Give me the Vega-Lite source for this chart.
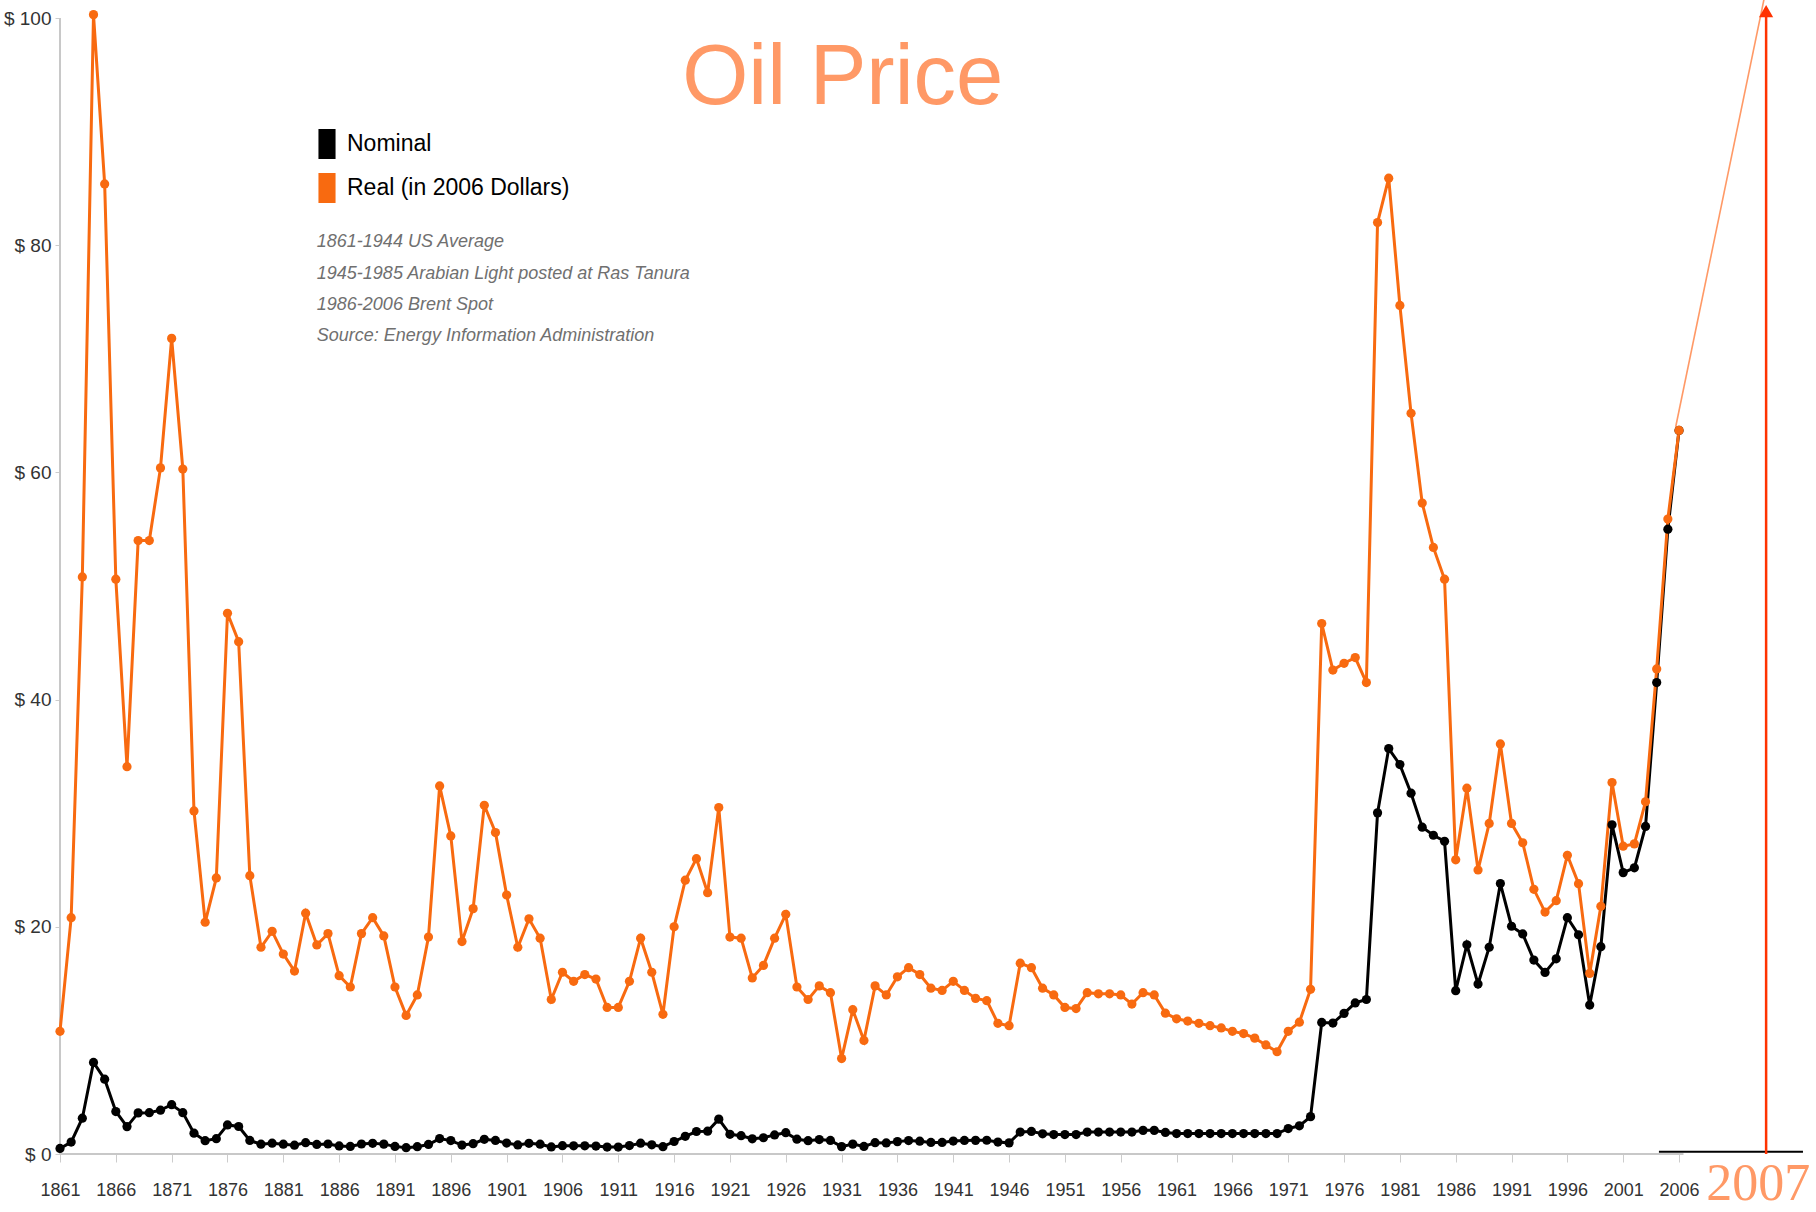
{
  "$schema": "https://vega.github.io/schema/vega-lite/v6.json",
  "width": 1750,
  "height": 1153,
  "autosize": "none",
  "padding": {"left": 60, "top": 1, "right": 6, "bottom": 58},
  "background": "white",
  "config": {
    "view": {"stroke": null},
    "axis": {"grid": false, "domain": false, "labelFont": "Liberation Sans, Arial, sans-serif", "labelColor": "#333333", "tickColor": "#cccccc"},
    "legend": {"orient": "none", "legendX": 252, "legendY": 128, "padding": 0, "symbolType": "M-0.57,-1H0.57V1H-0.57Z", "symbolSize": 900, "symbolStrokeWidth": 0, "symbolOpacity": 1, "labelFont": "Liberation Sans, Arial, sans-serif", "labelFontSize": 23, "labelColor": "#000000", "labelOffset": 5, "labelLimit": 0, "rowPadding": 14}
  },
  "datasets": {
    "oil": [
      {"year":1861,"nominal":0.49,"real":10.8},{"year":1862,"nominal":1.05,"real":20.8},{"year":1863,"nominal":3.15,"real":50.8},{"year":1864,"nominal":8.06,"real":100.3},{"year":1865,"nominal":6.59,"real":85.4},
      {"year":1866,"nominal":3.74,"real":50.6},{"year":1867,"nominal":2.41,"real":34.1},{"year":1868,"nominal":3.62,"real":54.0},{"year":1869,"nominal":3.64,"real":54.0},{"year":1870,"nominal":3.86,"real":60.4},
      {"year":1871,"nominal":4.34,"real":71.8},{"year":1872,"nominal":3.64,"real":60.3},{"year":1873,"nominal":1.83,"real":30.2},{"year":1874,"nominal":1.17,"real":20.4},{"year":1875,"nominal":1.35,"real":24.3},
      {"year":1876,"nominal":2.56,"real":47.6},{"year":1877,"nominal":2.42,"real":45.1},{"year":1878,"nominal":1.19,"real":24.5},{"year":1879,"nominal":0.86,"real":18.2},{"year":1880,"nominal":0.95,"real":19.6},
      {"year":1881,"nominal":0.86,"real":17.6},{"year":1882,"nominal":0.78,"real":16.1},{"year":1883,"nominal":1.0,"real":21.2},{"year":1884,"nominal":0.84,"real":18.4},{"year":1885,"nominal":0.88,"real":19.4},
      {"year":1886,"nominal":0.71,"real":15.7},{"year":1887,"nominal":0.67,"real":14.7},{"year":1888,"nominal":0.88,"real":19.4},{"year":1889,"nominal":0.94,"real":20.8},{"year":1890,"nominal":0.87,"real":19.2},
      {"year":1891,"nominal":0.67,"real":14.7},{"year":1892,"nominal":0.56,"real":12.2},{"year":1893,"nominal":0.64,"real":14.0},{"year":1894,"nominal":0.84,"real":19.1},{"year":1895,"nominal":1.36,"real":32.4},
      {"year":1896,"nominal":1.18,"real":28.0},{"year":1897,"nominal":0.79,"real":18.7},{"year":1898,"nominal":0.91,"real":21.6},{"year":1899,"nominal":1.29,"real":30.7},{"year":1900,"nominal":1.19,"real":28.3},
      {"year":1901,"nominal":0.96,"real":22.8},{"year":1902,"nominal":0.8,"real":18.2},{"year":1903,"nominal":0.94,"real":20.7},{"year":1904,"nominal":0.86,"real":19.0},{"year":1905,"nominal":0.62,"real":13.6},
      {"year":1906,"nominal":0.73,"real":16.0},{"year":1907,"nominal":0.72,"real":15.2},{"year":1908,"nominal":0.72,"real":15.8},{"year":1909,"nominal":0.7,"real":15.4},{"year":1910,"nominal":0.61,"real":12.9},
      {"year":1911,"nominal":0.61,"real":12.9},{"year":1912,"nominal":0.74,"real":15.2},{"year":1913,"nominal":0.95,"real":19.0},{"year":1914,"nominal":0.81,"real":16.0},{"year":1915,"nominal":0.64,"real":12.3},
      {"year":1916,"nominal":1.1,"real":20.0},{"year":1917,"nominal":1.56,"real":24.1},{"year":1918,"nominal":1.98,"real":26.0},{"year":1919,"nominal":2.01,"real":23.0},{"year":1920,"nominal":3.07,"real":30.5},
      {"year":1921,"nominal":1.73,"real":19.1},{"year":1922,"nominal":1.61,"real":19.0},{"year":1923,"nominal":1.34,"real":15.5},{"year":1924,"nominal":1.43,"real":16.6},{"year":1925,"nominal":1.68,"real":19.0},
      {"year":1926,"nominal":1.88,"real":21.1},{"year":1927,"nominal":1.3,"real":14.7},{"year":1928,"nominal":1.17,"real":13.6},{"year":1929,"nominal":1.27,"real":14.8},{"year":1930,"nominal":1.19,"real":14.2},
      {"year":1931,"nominal":0.65,"real":8.4},{"year":1932,"nominal":0.87,"real":12.7},{"year":1933,"nominal":0.67,"real":10.0},{"year":1934,"nominal":1.0,"real":14.8},{"year":1935,"nominal":0.97,"real":14.0},
      {"year":1936,"nominal":1.09,"real":15.6},{"year":1937,"nominal":1.18,"real":16.4},{"year":1938,"nominal":1.13,"real":15.8},{"year":1939,"nominal":1.02,"real":14.6},{"year":1940,"nominal":1.02,"real":14.4},
      {"year":1941,"nominal":1.14,"real":15.2},{"year":1942,"nominal":1.19,"real":14.4},{"year":1943,"nominal":1.2,"real":13.7},{"year":1944,"nominal":1.21,"real":13.5},{"year":1945,"nominal":1.05,"real":11.5},
      {"year":1946,"nominal":0.98,"real":11.3},{"year":1947,"nominal":1.93,"real":16.8},{"year":1948,"nominal":1.99,"real":16.4},{"year":1949,"nominal":1.78,"real":14.6},{"year":1950,"nominal":1.71,"real":14.0},
      {"year":1951,"nominal":1.71,"real":12.9},{"year":1952,"nominal":1.71,"real":12.8},{"year":1953,"nominal":1.93,"real":14.2},{"year":1954,"nominal":1.93,"real":14.1},{"year":1955,"nominal":1.93,"real":14.1},
      {"year":1956,"nominal":1.93,"real":14.0},{"year":1957,"nominal":1.93,"real":13.2},{"year":1958,"nominal":2.08,"real":14.2},{"year":1959,"nominal":2.08,"real":14.0},{"year":1960,"nominal":1.9,"real":12.4},
      {"year":1961,"nominal":1.8,"real":11.9},{"year":1962,"nominal":1.8,"real":11.7},{"year":1963,"nominal":1.8,"real":11.5},{"year":1964,"nominal":1.8,"real":11.3},{"year":1965,"nominal":1.8,"real":11.1},
      {"year":1966,"nominal":1.8,"real":10.8},{"year":1967,"nominal":1.8,"real":10.6},{"year":1968,"nominal":1.8,"real":10.2},{"year":1969,"nominal":1.8,"real":9.6},{"year":1970,"nominal":1.8,"real":9.0},
      {"year":1971,"nominal":2.24,"real":10.8},{"year":1972,"nominal":2.48,"real":11.6},{"year":1973,"nominal":3.29,"real":14.5},{"year":1974,"nominal":11.58,"real":46.7},{"year":1975,"nominal":11.53,"real":42.6},
      {"year":1976,"nominal":12.38,"real":43.2},{"year":1977,"nominal":13.3,"real":43.7},{"year":1978,"nominal":13.6,"real":41.5},{"year":1979,"nominal":30.03,"real":82.0},{"year":1980,"nominal":35.69,"real":85.9},
      {"year":1981,"nominal":34.28,"real":74.7},{"year":1982,"nominal":31.76,"real":65.2},{"year":1983,"nominal":28.77,"real":57.3},{"year":1984,"nominal":28.06,"real":53.4},{"year":1985,"nominal":27.53,"real":50.6},
      {"year":1986,"nominal":14.38,"real":25.9},{"year":1987,"nominal":18.42,"real":32.2},{"year":1988,"nominal":14.96,"real":25.0},{"year":1989,"nominal":18.2,"real":29.1},{"year":1990,"nominal":23.81,"real":36.1},
      {"year":1991,"nominal":20.05,"real":29.1},{"year":1992,"nominal":19.37,"real":27.4},{"year":1993,"nominal":17.07,"real":23.3},{"year":1994,"nominal":15.98,"real":21.3},{"year":1995,"nominal":17.18,"real":22.3},
      {"year":1996,"nominal":20.8,"real":26.3},{"year":1997,"nominal":19.3,"real":23.8},{"year":1998,"nominal":13.11,"real":15.9},{"year":1999,"nominal":18.25,"real":21.8},{"year":2000,"nominal":28.98,"real":32.7},
      {"year":2001,"nominal":24.77,"real":27.1},{"year":2002,"nominal":25.19,"real":27.3},{"year":2003,"nominal":28.84,"real":31.0},{"year":2004,"nominal":41.5,"real":42.7},{"year":2005,"nominal":55.0,"real":55.9},
      {"year":2006,"nominal":63.7,"real":63.7}
    ]
  },
  "layer": [
    {
      "data": {"values": [{"x": 1861, "x2": 2006.4, "y": 0, "y2": 0}, {"x": 1861, "x2": 1861, "y": 0, "y2": 100}]},
      "mark": {"type": "rule", "color": "#c8c8c8", "strokeWidth": 2},
      "encoding": {
        "x": {"field": "x", "type": "quantitative", "scale": {"domain": [1861, 2017.73], "nice": false, "zero": false}, "title": null,
              "axis": {"values": [1861,1866,1871,1876,1881,1886,1891,1896,1901,1906,1911,1916,1921,1926,1931,1936,1941,1946,1951,1956,1961,1966,1971,1976,1981,1986,1991,1996,2001,2006], "format": "d", "labelFontSize": 18, "tickSize": 8, "labelPadding": 19, "labelFlush": false, "labelOverlap": false}},
        "x2": {"field": "x2"},
        "y": {"field": "y", "type": "quantitative", "scale": {"domain": [0, 101.5], "nice": false, "zero": true}, "title": null,
              "axis": {"values": [0,20,40,60,80,100], "labelExpr": "'$ ' + datum.value", "labelFontSize": 19, "tickSize": 5, "labelPadding": 4}},
        "y2": {"field": "y2"}
      }
    },
    {
      "data": {"values": [{"x": 2004.2, "x2": 2017.1, "y": 0.2, "y2": 0.2}]},
      "mark": {"type": "rule", "color": "#000000", "strokeWidth": 2},
      "encoding": {"x": {"field": "x", "type": "quantitative", "title": null}, "x2": {"field": "x2"}, "y": {"field": "y", "type": "quantitative", "title": null}, "y2": {"field": "y2"}}
    },
    {
      "data": {"values": [{"x": 2005.7, "x2": 2013.6, "y": 64.0, "y2": 101.6}]},
      "mark": {"type": "rule", "color": "#FF9966", "strokeWidth": 1.6},
      "encoding": {"x": {"field": "x", "type": "quantitative", "title": null}, "x2": {"field": "x2"}, "y": {"field": "y", "type": "quantitative", "title": null}, "y2": {"field": "y2"}}
    },
    {
      "data": {"values": [{"x": 2013.8, "y": 0, "y2": 100.2}]},
      "mark": {"type": "rule", "color": "#FF3300", "strokeWidth": 2.5},
      "encoding": {"x": {"field": "x", "type": "quantitative", "title": null}, "y": {"field": "y", "type": "quantitative", "title": null}, "y2": {"field": "y2"}}
    },
    {
      "data": {"values": [{"x": 2013.8, "y": 100.6}]},
      "mark": {"type": "point", "shape": "triangle-up", "filled": true, "color": "#FF3300", "size": 200, "opacity": 1},
      "encoding": {"x": {"field": "x", "type": "quantitative", "title": null}, "y": {"field": "y", "type": "quantitative", "title": null}}
    },
    {
      "data": {"name": "oil"},
      "mark": {"type": "line", "color": "#000000", "strokeWidth": 3},
      "encoding": {"x": {"field": "year", "type": "quantitative", "title": null}, "y": {"field": "nominal", "type": "quantitative", "title": null}}
    },
    {
      "data": {"name": "oil"},
      "mark": {"type": "line", "color": "#F86A10", "strokeWidth": 3},
      "encoding": {"x": {"field": "year", "type": "quantitative", "title": null}, "y": {"field": "real", "type": "quantitative", "title": null}}
    },
    {
      "data": {"name": "oil"},
      "transform": [{"fold": ["nominal", "real"], "as": ["series", "price"]}],
      "mark": {"type": "point", "filled": true, "opacity": 1, "size": 85},
      "encoding": {
        "x": {"field": "year", "type": "quantitative", "title": null},
        "y": {"field": "price", "type": "quantitative", "title": null},
        "color": {"field": "series", "type": "nominal", "scale": {"domain": ["nominal", "real"], "range": ["#000000", "#F86A10"]},
                  "legend": {"title": null, "labelLimit": 0, "labelExpr": "datum.label == 'nominal' ? 'Nominal' : 'Real (in 2006 Dollars)'",
                             "encode": {"symbols": {"update": {"size": {"value": 900}, "shape": {"value": "M-0.57,-1H0.57V1H-0.57Z"}, "strokeWidth": {"value": 0}}}}}}
      }
    },
    {
      "data": {"values": [
        {"x": 1884.0, "y": 80.3, "t": "1861-1944 US Average"},
        {"x": 1884.0, "y": 77.5, "t": "1945-1985 Arabian Light posted at Ras Tanura"},
        {"x": 1884.0, "y": 74.7, "t": "1986-2006 Brent Spot"},
        {"x": 1884.0, "y": 72.0, "t": "Source: Energy Information Administration"}
      ]},
      "mark": {"type": "text", "align": "left", "baseline": "middle", "fontStyle": "italic", "font": "Liberation Sans, Arial, sans-serif", "fontSize": 18, "color": "#707070"},
      "encoding": {"x": {"field": "x", "type": "quantitative", "title": null}, "y": {"field": "y", "type": "quantitative", "title": null}, "text": {"field": "t"}}
    },
    {
      "data": {"values": [{"x": 1931.1, "y": 92.4, "t": "Oil Price"}]},
      "mark": {"type": "text", "align": "center", "baseline": "alphabetic", "font": "Liberation Sans, Arial, sans-serif", "fontSize": 85, "color": "#FF9966"},
      "encoding": {"x": {"field": "x", "type": "quantitative", "title": null}, "y": {"field": "y", "type": "quantitative", "title": null}, "text": {"field": "t"}}
    },
    {
      "data": {"values": [{"x": 2013.1, "y": -5.0, "t": "2007"}]},
      "mark": {"type": "text", "align": "center", "baseline": "bottom", "font": "Liberation Serif, Times New Roman, serif", "fontSize": 52, "color": "#FF9966", "clip": false},
      "encoding": {"x": {"field": "x", "type": "quantitative", "title": null}, "y": {"field": "y", "type": "quantitative", "title": null}, "text": {"field": "t"}}
    }
  ]
}
